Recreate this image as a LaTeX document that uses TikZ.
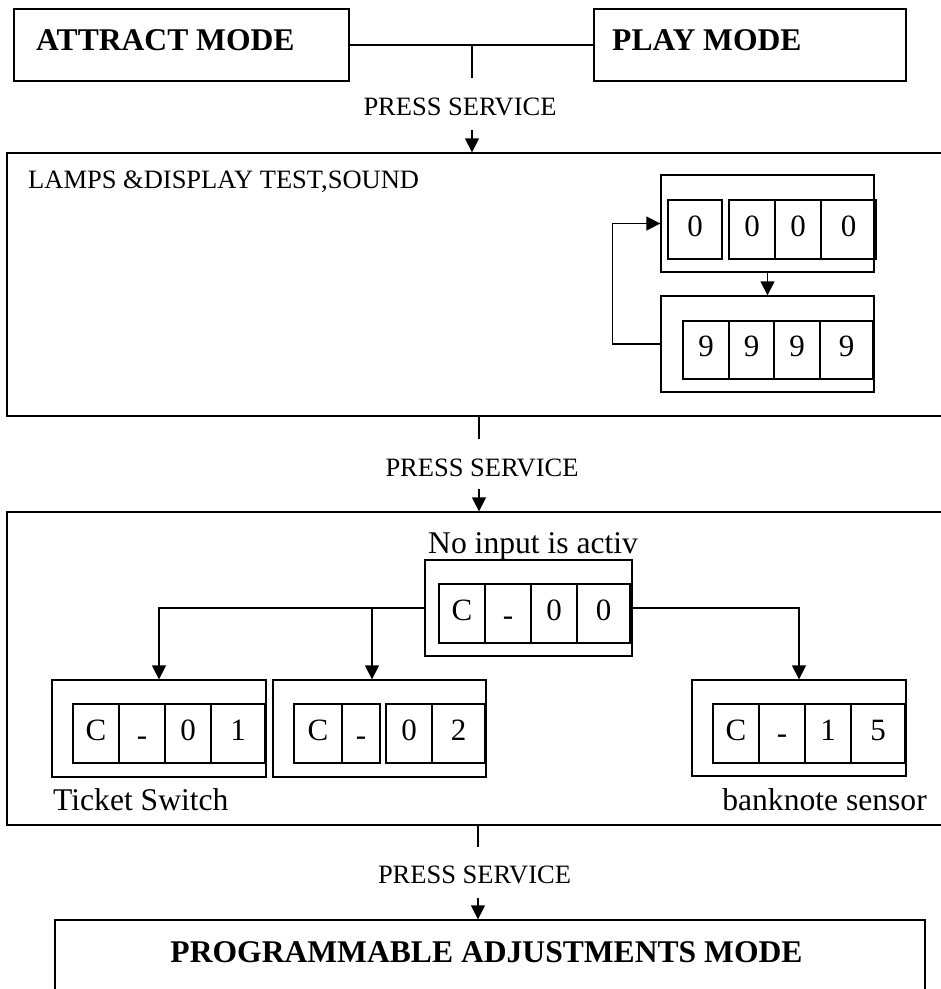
\documentclass[tikz,border=0pt]{standalone}
\usepackage{fontspec}
\setmainfont{Liberation Serif}
\usetikzlibrary{arrows.meta}

\tikzset{
  box/.style={draw=black, line width=1.3pt, inner sep=0pt},
  cell/.style={draw=black, line width=1.3pt, inner sep=0pt, minimum width=46pt, minimum height=59pt, text height=18pt, text depth=5pt, font=\fontsize{31}{36}\selectfont},
  modetxt/.style={inner sep=0pt, font=\fontsize{31.6}{38}\selectfont\bfseries},
  presstxt/.style={inner sep=0pt, font=\fontsize{26.5}{32}\selectfont},
  labeltxt/.style={inner sep=0pt, font=\fontsize{31.6}{38}\selectfont},
  line/.style={line width=1.3pt},
  arr/.style={line width=1.3pt, -{Triangle[width=14pt,length=14pt]}}
}

\newcommand{\lowdash}{\raisebox{-5pt}{-}}

\begin{document}
\begin{tikzpicture}[x=1pt, y=-1pt]

%SPACING
\useasboundingbox (0,0) rectangle (941,989);
%SPACING

\node[box, minimum width=335pt, minimum height=72pt](attract) at (181.5,45) {};
\node[modetxt, anchor=base west](attracttxt) at (36,50) {ATTRACT MODE};
\node[box, minimum width=312pt, minimum height=72pt](play) at (750,45) {};
\node[modetxt, anchor=base west](playtxt) at (612,50) {PLAY MODE};

\coordinate (t1) at (472,45);
\coordinate (t1end) at (472,78);
\node[presstxt, anchor=base](press1) at (460,115) {PRESS SERVICE};
\coordinate (a1) at (472,130);

% lamps and display test
\node[box, minimum width=943pt, minimum height=263pt](test) at (478.5,284.5) {};
\node[presstxt, anchor=base west](testtxt) at (28,188) {LAMPS \&DISPLAY TEST,SOUND};

\node[box, minimum width=213pt, minimum height=97pt](disp0) at (767.5,223.5) {};
\node[cell, minimum width=54pt](d0a) at (695,229.5) {0};
\node[cell](d0b) at (752,229.5) {0};
\node[cell](d0c) at (798,229.5) {0};
\node[cell, minimum width=55pt](d0d) at (848.5,229.5) {0};

\node[box, minimum width=213pt, minimum height=96pt](disp9) at (767.5,344) {};
\node[cell, minimum height=58pt](d9a) at (706,350) {9};
\node[cell, minimum width=45pt, minimum height=58pt](d9b) at (751.5,350) {9};
\node[cell, minimum height=58pt](d9c) at (797,350) {9};
\node[cell, minimum width=53pt, minimum height=58pt](d9d) at (846.5,350) {9};

\coordinate (t2) at (479,416);
\coordinate (t2end) at (479,439);
\node[presstxt, anchor=base](press2) at (482,476) {PRESS SERVICE};
\coordinate (a2) at (479,489);

% input test
\node[box, minimum width=943pt, minimum height=313pt](input) at (478.5,668.5) {};
\node[labeltxt, anchor=base west](inputtxt) at (428,553) {No input is activ};

\node[box, minimum width=207pt, minimum height=96pt](c00) at (528.5,608) {};
\node[cell](c00a) at (462,613.5) {C};
\node[cell](c00b) at (508,613.5) {\lowdash};
\node[cell](c00c) at (554,613.5) {0};
\node[cell, minimum width=53pt](c00d) at (603.5,613.5) {0};

\node[box, minimum width=214pt, minimum height=97pt](c01) at (159,728.5) {};
\node[cell](c01a) at (96,733.5) {C};
\node[cell](c01b) at (142,733.5) {\lowdash};
\node[cell](c01c) at (188,733.5) {0};
\node[cell, minimum width=54pt](c01d) at (238,733.5) {1};

\node[box, minimum width=213pt, minimum height=97pt](c02) at (379.5,728.5) {};
\node[cell, minimum width=48pt](c02a) at (318,733.5) {C};
\node[cell, minimum width=38pt](c02b) at (361,733.5) {\lowdash};
\node[cell](c02c) at (409,733.5) {0};
\node[cell, minimum width=53pt](c02d) at (458.5,733.5) {2};

\node[box, minimum width=214pt, minimum height=96pt](c15) at (799,728) {};
\node[cell](c15a) at (736,733.5) {C};
\node[cell](c15b) at (782,733.5) {\raisebox{-3pt}{-}};
\node[cell](c15c) at (828,733.5) {1};
\node[cell, minimum width=54pt](c15d) at (878,733.5) {5};

\node[labeltxt, anchor=base west](tickettxt) at (53,810) {Ticket Switch};
\node[labeltxt, anchor=base east](banknotetxt) at (927,810) {banknote sensor};

\coordinate (j1) at (372,608);

\coordinate (t3) at (478,825);
\coordinate (t3end) at (478,847);
\node[presstxt, anchor=base](press3) at (474.5,883) {PRESS SERVICE};
\coordinate (a3) at (478,898);

\node[box, minimum width=870pt, minimum height=90pt](adjust) at (490,965) {};
\node[modetxt, anchor=base](adjusttxt) at (486.5,962) {PROGRAMMABLE ADJUSTMENTS MODE};

\draw[line] (attract) -- (play);
\draw[line] (t1) -- (t1end);
\draw[arr] (a1) -- (a1 |- test.north);

\draw[arr] (disp0) -- (disp9);
\draw[arr] (disp9.west) -- ++(-48,0) |- (disp0.west);

\draw[line] (t2) -- (t2end);
\draw[arr] (a2) -- (a2 |- input.north);

\draw[arr] (c00.west) -| (c01.north);
\draw[arr] (j1) -- (j1 |- c02.north);
\draw[arr] (c00.east) -| (c15.north);

\draw[line] (t3) -- (t3end);
\draw[arr] (a3) -- (a3 |- adjust.north);

\end{tikzpicture}
\end{document}
